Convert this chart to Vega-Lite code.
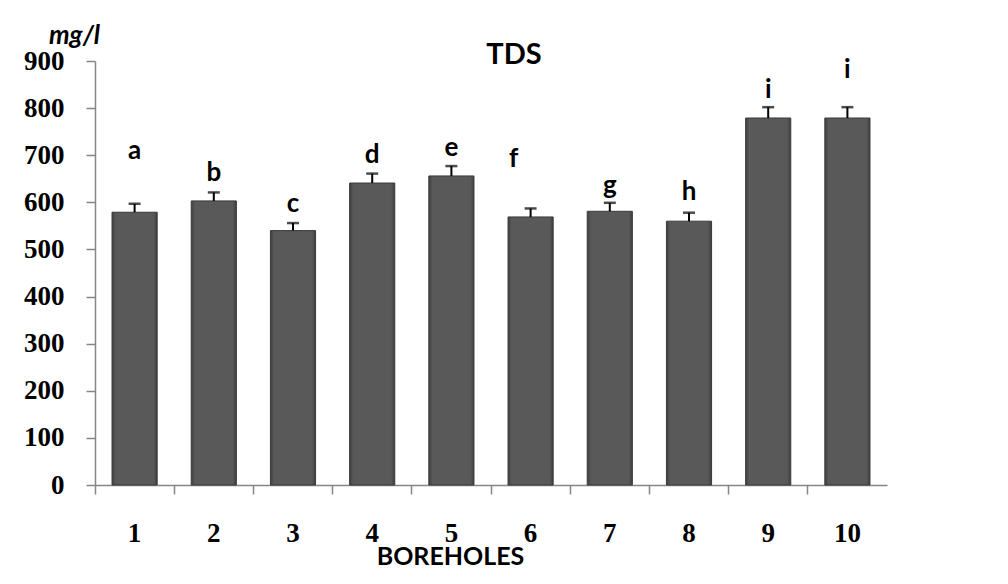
{
  "$schema": "https://vega.github.io/schema/vega-lite/v6.json",
  "autosize": "none",
  "padding": {"left": 95, "top": 61, "right": 121, "bottom": 99},
  "width": 792,
  "height": 424,
  "background": "white",
  "config": {"view": {"stroke": null}},
  "datasets": {
    "tds": [
      {"borehole": "1", "tds": 579, "err": 18, "letter": "a", "letterPos": 710, "shifted": false},
      {"borehole": "2", "tds": 603, "err": 18, "letter": "b", "letterPos": 662, "shifted": false},
      {"borehole": "3", "tds": 540, "err": 16, "letter": "c", "letterPos": 596, "shifted": false},
      {"borehole": "4", "tds": 641, "err": 20, "letter": "d", "letterPos": 700, "shifted": false},
      {"borehole": "5", "tds": 656, "err": 21, "letter": "e", "letterPos": 715, "shifted": false},
      {"borehole": "6", "tds": 569, "err": 18, "letter": "f", "letterPos": 693, "shifted": true},
      {"borehole": "7", "tds": 581, "err": 18, "letter": "g", "letterPos": 635, "shifted": false},
      {"borehole": "8", "tds": 560, "err": 18, "letter": "h", "letterPos": 621, "shifted": false},
      {"borehole": "9", "tds": 779, "err": 23, "letter": "i", "letterPos": 838, "shifted": false},
      {"borehole": "10", "tds": 779, "err": 23, "letter": "i", "letterPos": 880, "shifted": false}
    ],
    "title": [{"text": "TDS", "anchor": "6", "level": 893}]
  },
  "data": {"name": "tds"},
  "transform": [{"calculate": "datum.tds + datum.err", "as": "hi"}],
  "encoding": {
    "x": {
      "field": "borehole",
      "type": "nominal",
      "sort": ["1", "2", "3", "4", "5", "6", "7", "8", "9", "10"],
      "scale": {"domain": ["1", "2", "3", "4", "5", "6", "7", "8", "9", "10"], "paddingInner": 0, "paddingOuter": 0},
      "axis": {
        "title": "BOREHOLES",
        "titleFont": "Lato",
        "titleFontWeight": "bold",
        "titleFontSize": 25,
        "titleColor": "black",
        "titleX": 355,
        "titleY": 79,
        "titleAlign": "center",
        "titleBaseline": "alphabetic",
        "labelAngle": 0,
        "labelFont": "Liberation Serif",
        "labelFontWeight": "bold",
        "labelFontSize": 27,
        "labelColor": "black",
        "labelBaseline": "alphabetic",
        "labelPadding": 47,
        "bandPosition": 0,
        "tickSize": 9,
        "tickColor": "#868686",
        "tickWidth": 1.5,
        "domainColor": "#868686",
        "domainWidth": 1.5,
        "grid": false
      }
    }
  },
  "layer": [
    {
      "mark": {
        "type": "bar",
        "width": {"band": 0.57},
        "stroke": "#3a3a3a",
        "strokeWidth": 1,
        "color": {
          "gradient": "linear",
          "x1": 0, "y1": 0, "x2": 1, "y2": 0,
          "stops": [
            {"offset": 0, "color": "#3e3e3e"},
            {"offset": 0.08, "color": "#595959"},
            {"offset": 0.92, "color": "#595959"},
            {"offset": 1, "color": "#3e3e3e"}
          ]
        }
      },
      "encoding": {
        "y": {
          "field": "tds",
          "type": "quantitative",
          "scale": {"domain": [0, 900], "nice": false},
          "axis": {
            "title": "mg/l",
            "titleFont": "Lato",
            "titleFontWeight": "bold",
            "titleFontStyle": "italic",
            "titleFontSize": 26,
            "titleColor": "black",
            "titleAngle": 0,
            "titleX": -21,
            "titleY": -18,
            "titleAlign": "center",
            "titleBaseline": "alphabetic",
            "values": [0, 100, 200, 300, 400, 500, 600, 700, 800, 900],
            "labelFont": "Liberation Serif",
            "labelFontWeight": "bold",
            "labelFontSize": 27,
            "labelColor": "black",
            "labelPadding": 22,
            "tickSize": 9,
            "tickColor": "#868686",
            "tickWidth": 1.5,
            "domainColor": "#868686",
            "domainWidth": 1.5,
            "grid": false
          }
        }
      }
    },
    {
      "mark": {"type": "rule", "color": "black", "strokeWidth": 2},
      "encoding": {
        "y": {"field": "tds", "type": "quantitative"},
        "y2": {"field": "hi"}
      }
    },
    {
      "mark": {"type": "tick", "color": "black", "size": 12, "thickness": 2.5},
      "encoding": {
        "y": {"field": "hi", "type": "quantitative"}
      }
    },
    {
      "transform": [{"filter": "!datum.shifted"}],
      "mark": {"type": "text", "font": "Lato", "fontWeight": "bold", "fontSize": 26, "color": "black", "baseline": "middle"},
      "encoding": {
        "y": {"field": "letterPos", "type": "quantitative"},
        "text": {"field": "letter"}
      }
    },
    {
      "transform": [{"filter": "datum.shifted"}],
      "mark": {"type": "text", "font": "Lato", "fontWeight": "bold", "fontSize": 26, "color": "black", "baseline": "middle", "dx": -17},
      "encoding": {
        "y": {"field": "letterPos", "type": "quantitative"},
        "text": {"field": "letter"}
      }
    },
    {
      "data": {"name": "title"},
      "mark": {"type": "text", "font": "Lato", "fontWeight": "bold", "fontSize": 29, "color": "black", "baseline": "alphabetic", "align": "center", "dx": 23},
      "encoding": {
        "x": {"field": "anchor", "type": "nominal", "bandPosition": 0},
        "y": {"field": "level", "type": "quantitative"},
        "text": {"field": "text"}
      }
    }
  ]
}
